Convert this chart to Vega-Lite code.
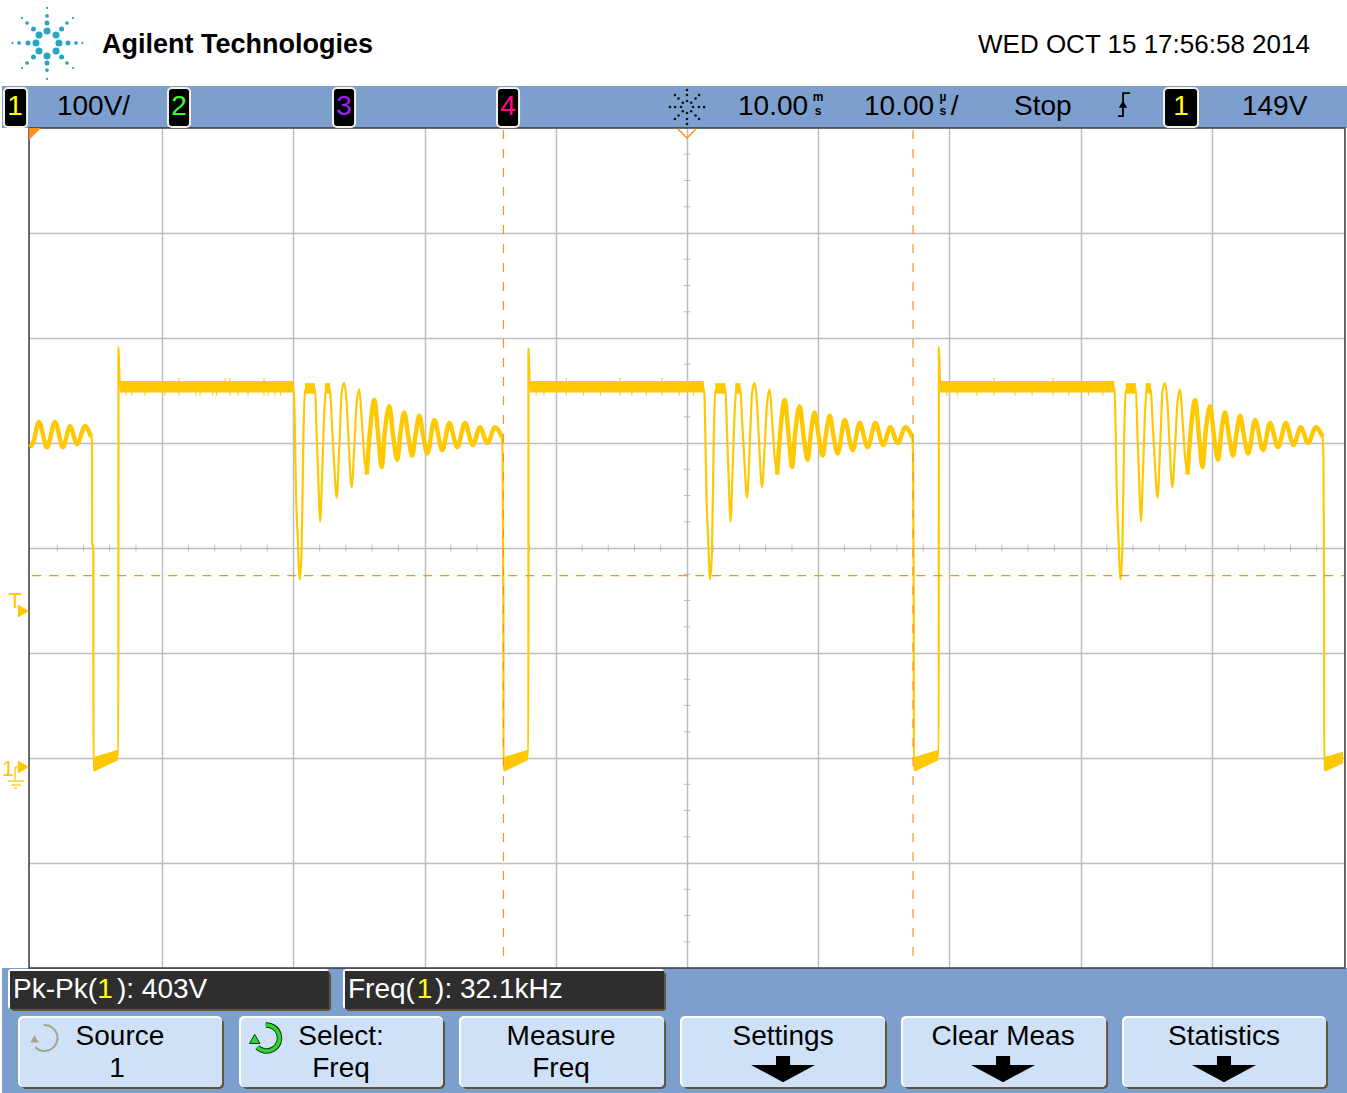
{"$schema":"https://vega.github.io/schema/vega-lite/v6.json","autosize":{"type":"fit","contains":"padding"},"width":1347,"height":1093,"padding":0,"background":"white","config":{"view":{"stroke":null}},
"datasets":{
"trace":[
{"c":0,"t":-45.43,"v":306},{"c":0,"t":-45.35,"v":303},{"c":0,"t":-45.33,"v":205},{"c":0,"t":-45.25,"v":200},{"c":0,"t":-45.24,"v":-11},{"c":0,"t":-45.16,"v":-10},{"c":0,"t":-43.37,"v":3},{"c":0,"t":-43.34,"v":3},{"c":0,"t":-43.33,"v":391},{"c":0,"t":-43.25,"v":360},{"c":0,"t":-43.15,"v":353},
{"c":0,"t":-29.99,"v":353},{"c":0,"t":-29.93,"v":338},{"c":0,"t":-29.88,"v":306},{"c":0,"t":-29.81,"v":258},{"c":0,"t":-29.67,"v":210},{"c":0,"t":-29.52,"v":170},{"c":0,"t":-29.37,"v":201},{"c":0,"t":-29.24,"v":306},{"c":0,"t":-29.12,"v":350},{"c":0,"t":-28.35,"v":352},{"c":0,"t":-28.22,"v":306},{"c":0,"t":-28.10,"v":265},{"c":0,"t":-27.97,"v":225},{"c":0,"t":-27.80,"v":274},{"c":0,"t":-27.64,"v":331},{"c":0,"t":-27.46,"v":355},{"c":0,"t":-27.21,"v":350},{"c":0,"t":-27.08,"v":322},{"c":0,"t":-26.91,"v":284},{"c":0,"t":-26.70,"v":248},{"c":0,"t":-26.50,"v":296},{"c":0,"t":-26.32,"v":348},{"c":0,"t":-26.14,"v":357},{"c":0,"t":-25.94,"v":338},{"c":0,"t":-25.81,"v":306},{"c":0,"t":-25.56,"v":258},{"c":0,"t":-25.36,"v":296},{"c":0,"t":-25.18,"v":338},{"c":0,"t":-24.98,"v":351},{"c":0,"t":-24.79,"v":322},{"c":0,"t":-24.60,"v":287},{"c":0,"t":-24.41,"v":270},
{"c":1,"t":-14.12,"v":306},{"c":1,"t":-14.05,"v":287},{"c":1,"t":-14.00,"v":150},{"c":1,"t":-13.99,"v":-11},{"c":1,"t":-13.87,"v":-10},{"c":1,"t":-12.12,"v":3},{"c":1,"t":-12.09,"v":3},{"c":1,"t":-12.08,"v":390},{"c":1,"t":-12.00,"v":360},{"c":1,"t":-11.90,"v":353},
{"c":1,"t":1.28,"v":353},{"c":1,"t":1.35,"v":338},{"c":1,"t":1.40,"v":306},{"c":1,"t":1.47,"v":258},{"c":1,"t":1.61,"v":210},{"c":1,"t":1.76,"v":170},{"c":1,"t":1.91,"v":201},{"c":1,"t":2.04,"v":306},{"c":1,"t":2.16,"v":350},{"c":1,"t":2.93,"v":352},{"c":1,"t":3.06,"v":306},{"c":1,"t":3.18,"v":265},{"c":1,"t":3.31,"v":225},{"c":1,"t":3.48,"v":274},{"c":1,"t":3.64,"v":331},{"c":1,"t":3.82,"v":355},{"c":1,"t":4.07,"v":350},{"c":1,"t":4.20,"v":322},{"c":1,"t":4.37,"v":284},{"c":1,"t":4.58,"v":248},{"c":1,"t":4.78,"v":296},{"c":1,"t":4.96,"v":348},{"c":1,"t":5.14,"v":357},{"c":1,"t":5.34,"v":338},{"c":1,"t":5.47,"v":306},{"c":1,"t":5.72,"v":258},{"c":1,"t":5.92,"v":296},{"c":1,"t":6.10,"v":338},{"c":1,"t":6.30,"v":351},{"c":1,"t":6.49,"v":322},{"c":1,"t":6.68,"v":287},{"c":1,"t":6.87,"v":270},
{"c":2,"t":17.16,"v":306},{"c":2,"t":17.23,"v":287},{"c":2,"t":17.28,"v":150},{"c":2,"t":17.29,"v":-11},{"c":2,"t":17.41,"v":-10},{"c":2,"t":19.16,"v":3},{"c":2,"t":19.19,"v":3},{"c":2,"t":19.20,"v":391},{"c":2,"t":19.28,"v":360},{"c":2,"t":19.38,"v":353},
{"c":2,"t":32.57,"v":353},{"c":2,"t":32.63,"v":338},{"c":2,"t":32.68,"v":306},{"c":2,"t":32.75,"v":258},{"c":2,"t":32.89,"v":210},{"c":2,"t":33.04,"v":170},{"c":2,"t":33.19,"v":201},{"c":2,"t":33.32,"v":306},{"c":2,"t":33.44,"v":350},{"c":2,"t":34.21,"v":352},{"c":2,"t":34.34,"v":306},{"c":2,"t":34.46,"v":265},{"c":2,"t":34.59,"v":225},{"c":2,"t":34.76,"v":274},{"c":2,"t":34.92,"v":331},{"c":2,"t":35.10,"v":355},{"c":2,"t":35.35,"v":350},{"c":2,"t":35.48,"v":322},{"c":2,"t":35.65,"v":284},{"c":2,"t":35.86,"v":248},{"c":2,"t":36.06,"v":296},{"c":2,"t":36.24,"v":348},{"c":2,"t":36.42,"v":357},{"c":2,"t":36.62,"v":338},{"c":2,"t":36.75,"v":306},{"c":2,"t":37.00,"v":258},{"c":2,"t":37.20,"v":296},{"c":2,"t":37.38,"v":338},{"c":2,"t":37.58,"v":351},{"c":2,"t":37.77,"v":322},{"c":2,"t":37.96,"v":287},{"c":2,"t":38.15,"v":270},
{"c":3,"t":48.44,"v":306},{"c":3,"t":48.51,"v":287},{"c":3,"t":48.56,"v":150},{"c":3,"t":48.57,"v":-11},{"c":3,"t":48.69,"v":-10},{"c":3,"t":50.0,"v":-3}],
"tail":[
{"c":0,"t":-50.08,"v":296},{"c":0,"t":-49.85,"v":300},{"c":0,"t":-49.39,"v":320},{"c":0,"t":-48.78,"v":296},{"c":0,"t":-48.17,"v":320},{"c":0,"t":-47.56,"v":296},{"c":0,"t":-47.03,"v":316},{"c":0,"t":-46.49,"v":299},{"c":0,"t":-45.88,"v":316},{"c":0,"t":-45.43,"v":306},
{"c":1,"t":-24.41,"v":270},{"c":1,"t":-24.16,"v":312},{"c":1,"t":-23.83,"v":341},{"c":1,"t":-23.53,"v":306},{"c":1,"t":-23.27,"v":277},{"c":1,"t":-23.02,"v":312},{"c":1,"t":-22.69,"v":335},{"c":1,"t":-22.39,"v":306},{"c":1,"t":-22.08,"v":284},{"c":1,"t":-21.82,"v":312},{"c":1,"t":-21.55,"v":329},{"c":1,"t":-21.24,"v":306},{"c":1,"t":-20.94,"v":288},{"c":1,"t":-20.68,"v":309},{"c":1,"t":-20.40,"v":326},{"c":1,"t":-20.10,"v":306},{"c":1,"t":-19.79,"v":290},{"c":1,"t":-19.26,"v":322},{"c":1,"t":-18.65,"v":293},{"c":1,"t":-18.12,"v":319},{"c":1,"t":-17.51,"v":296},{"c":1,"t":-16.92,"v":319},{"c":1,"t":-16.33,"v":298},{"c":1,"t":-15.78,"v":315},{"c":1,"t":-15.22,"v":300},{"c":1,"t":-14.63,"v":315},{"c":1,"t":-14.12,"v":306},
{"c":2,"t":6.87,"v":270},{"c":2,"t":7.12,"v":312},{"c":2,"t":7.45,"v":341},{"c":2,"t":7.75,"v":306},{"c":2,"t":8.01,"v":277},{"c":2,"t":8.26,"v":312},{"c":2,"t":8.59,"v":335},{"c":2,"t":8.89,"v":306},{"c":2,"t":9.20,"v":284},{"c":2,"t":9.46,"v":312},{"c":2,"t":9.73,"v":329},{"c":2,"t":10.04,"v":306},{"c":2,"t":10.34,"v":288},{"c":2,"t":10.60,"v":309},{"c":2,"t":10.88,"v":326},{"c":2,"t":11.18,"v":306},{"c":2,"t":11.49,"v":290},{"c":2,"t":12.02,"v":322},{"c":2,"t":12.63,"v":293},{"c":2,"t":13.16,"v":319},{"c":2,"t":13.77,"v":296},{"c":2,"t":14.36,"v":319},{"c":2,"t":14.95,"v":298},{"c":2,"t":15.50,"v":315},{"c":2,"t":16.06,"v":300},{"c":2,"t":16.65,"v":315},{"c":2,"t":17.16,"v":306},
{"c":3,"t":38.15,"v":270},{"c":3,"t":38.40,"v":312},{"c":3,"t":38.73,"v":341},{"c":3,"t":39.03,"v":306},{"c":3,"t":39.29,"v":277},{"c":3,"t":39.54,"v":312},{"c":3,"t":39.87,"v":335},{"c":3,"t":40.17,"v":306},{"c":3,"t":40.48,"v":284},{"c":3,"t":40.74,"v":312},{"c":3,"t":41.01,"v":329},{"c":3,"t":41.32,"v":306},{"c":3,"t":41.62,"v":288},{"c":3,"t":41.88,"v":309},{"c":3,"t":42.16,"v":326},{"c":3,"t":42.46,"v":306},{"c":3,"t":42.77,"v":290},{"c":3,"t":43.30,"v":322},{"c":3,"t":43.91,"v":293},{"c":3,"t":44.44,"v":319},{"c":3,"t":45.05,"v":296},{"c":3,"t":45.64,"v":319},{"c":3,"t":46.23,"v":298},{"c":3,"t":46.78,"v":315},{"c":3,"t":47.34,"v":300},{"c":3,"t":47.93,"v":315},{"c":3,"t":48.44,"v":306}],
"envelope":[
{"c":"L0","t":-45.2,"v":1,"v2":-13},{"c":"L0","t":-43.37,"v":8,"v2":-2},
{"c":"L1","t":-13.95,"v":1,"v2":-13},{"c":"L1","t":-12.12,"v":8,"v2":-2},
{"c":"L2","t":17.33,"v":1,"v2":-13},{"c":"L2","t":19.16,"v":8,"v2":-2},
{"c":"L3","t":48.62,"v":1,"v2":-13},{"c":"L3","t":50.0,"v":6,"v2":-5},
{"c":"P0","t":-43.25,"v":359,"v2":348},{"c":"P0","t":-29.99,"v":359,"v2":348},
{"c":"P1","t":-12.0,"v":359,"v2":348},{"c":"P1","t":1.28,"v":359,"v2":348},
{"c":"P2","t":19.29,"v":359,"v2":348},{"c":"P2","t":32.57,"v":359,"v2":348},
{"c":"F0","t":-29.12,"v":357,"v2":347},{"c":"F0","t":-28.35,"v":357,"v2":347},
{"c":"G0","t":-27.6,"v":357,"v2":347},{"c":"G0","t":-27.2,"v":357,"v2":347},
{"c":"F1","t":2.16,"v":357,"v2":347},{"c":"F1","t":2.93,"v":357,"v2":347},
{"c":"G1","t":3.68,"v":357,"v2":347},{"c":"G1","t":4.08,"v":357,"v2":347},
{"c":"F2","t":33.44,"v":357,"v2":347},{"c":"F2","t":34.21,"v":357,"v2":347},
{"c":"G2","t":34.96,"v":357,"v2":347},{"c":"G2","t":35.36,"v":357,"v2":347}],
"spikes":[
{"t":-42.76,"v":350,"v2":345},{"t":-42.32,"v":350,"v2":345},{"t":-41.31,"v":350,"v2":345},{"t":-39.79,"v":350,"v2":345},{"t":-38.72,"v":362,"v2":345},{"t":-37.42,"v":350,"v2":345},{"t":-37.12,"v":350,"v2":345},{"t":-36.15,"v":350,"v2":345},{"t":-35.85,"v":350,"v2":345},{"t":-35.21,"v":362,"v2":350},{"t":-34.83,"v":362,"v2":345},{"t":-34.22,"v":350,"v2":345},{"t":-33.46,"v":350,"v2":345},{"t":-32.24,"v":362,"v2":345},{"t":-31.94,"v":350,"v2":345},{"t":-31.4,"v":350,"v2":345},{"t":-30.97,"v":350,"v2":345},
{"t":-11.5,"v":350,"v2":345},{"t":-10.9,"v":350,"v2":345},{"t":-9.2,"v":362,"v2":345},{"t":-7.9,"v":350,"v2":345},{"t":-6.6,"v":350,"v2":345},{"t":-5.1,"v":362,"v2":345},{"t":-4.2,"v":350,"v2":345},{"t":-3.1,"v":350,"v2":345},{"t":-1.9,"v":362,"v2":345},{"t":-0.6,"v":350,"v2":345},{"t":0.5,"v":350,"v2":345},
{"t":19.8,"v":350,"v2":345},{"t":20.6,"v":350,"v2":345},{"t":22.1,"v":350,"v2":345},{"t":23.4,"v":362,"v2":345},{"t":25.0,"v":350,"v2":345},{"t":26.3,"v":350,"v2":345},{"t":27.9,"v":362,"v2":345},{"t":29.1,"v":350,"v2":345},{"t":30.6,"v":350,"v2":345},{"t":31.7,"v":350,"v2":345}],
"xticks":[{"t":-48,"v":200},{"t":-46,"v":200},{"t":-44,"v":200},{"t":-42,"v":200},{"t":-38,"v":200},{"t":-36,"v":200},{"t":-34,"v":200},{"t":-32,"v":200},{"t":-28,"v":200},{"t":-26,"v":200},{"t":-24,"v":200},{"t":-22,"v":200},{"t":-18,"v":200},{"t":-16,"v":200},{"t":-14,"v":200},{"t":-12,"v":200},{"t":-8,"v":200},{"t":-6,"v":200},{"t":-4,"v":200},{"t":-2,"v":200},{"t":2,"v":200},{"t":4,"v":200},{"t":6,"v":200},{"t":8,"v":200},{"t":12,"v":200},{"t":14,"v":200},{"t":16,"v":200},{"t":18,"v":200},{"t":22,"v":200},{"t":24,"v":200},{"t":26,"v":200},{"t":28,"v":200},{"t":32,"v":200},{"t":34,"v":200},{"t":36,"v":200},{"t":38,"v":200},{"t":42,"v":200},{"t":44,"v":200},{"t":46,"v":200},{"t":48,"v":200}],
"yticks":[{"t":0,"v":-175},{"t":0,"v":-150},{"t":0,"v":-125},{"t":0,"v":-75},{"t":0,"v":-50},{"t":0,"v":-25},{"t":0,"v":25},{"t":0,"v":50},{"t":0,"v":75},{"t":0,"v":125},{"t":0,"v":150},{"t":0,"v":175},{"t":0,"v":225},{"t":0,"v":250},{"t":0,"v":275},{"t":0,"v":325},{"t":0,"v":350},{"t":0,"v":375},{"t":0,"v":425},{"t":0,"v":450},{"t":0,"v":475},{"t":0,"v":525},{"t":0,"v":550},{"t":0,"v":575}],
"buttons":[{"t":-50.84,"t2":-35.44,"v":-247.6,"v2":-313.3},{"t":-33.99,"t2":-18.60,"v":-247.6,"v2":-313.3},{"t":-17.23,"t2":-1.75,"v":-247.6,"v2":-313.3},{"t":-0.38,"t2":15.09,"v":-247.6,"v2":-313.3},{"t":16.46,"t2":31.94,"v":-247.6,"v2":-313.3},{"t":33.31,"t2":48.70,"v":-247.6,"v2":-313.3}],
"readouts":[{"t":-51.60,"t2":-27.29,"v":-202.9,"v2":-239.0},{"t":-26.07,"t2":-1.75,"v":-202.9,"v2":-239.0}],
"badges":[{"t":-52.06,"t2":-50.30,"v":638,"v2":601},{"t":-39.56,"t2":-37.88,"v":638,"v2":601},{"t":-26.98,"t2":-25.30,"v":638,"v2":601},{"t":-14.48,"t2":-12.80,"v":638,"v2":601},{"t":36.36,"t2":38.95,"v":638,"v2":601}]
},
"encoding":{
"x":{"field":"t","type":"quantitative","scale":{"domain":[-52.363,50.305],"nice":false,"zero":false},"axis":{"title":null,"values":[-40,-30,-20,-10,0,10,20,30,40],"grid":true,"gridColor":"#BDBDBD","gridWidth":1.5,"domain":false,"ticks":false,"labels":false}},
"y":{"field":"v","type":"quantitative","scale":{"domain":[-319,721.9],"nice":false,"zero":false},"axis":{"title":null,"values":[-100,0,100,200,300,400,500],"grid":true,"gridColor":"#BDBDBD","gridWidth":1.5,"domain":false,"ticks":false,"labels":false}}
},
"layer":[
{"data":{"values":[{"t":-52.363,"t2":-50.15,"v":721.9,"v2":-319},{"t":50.15,"t2":50.305,"v":721.9,"v2":-319},{"t":-52.363,"t2":50.305,"v":721.9,"v2":640}]},"mark":{"type":"rect","fill":"white"},"encoding":{"x2":{"field":"t2"},"y2":{"field":"v2"}}},
{"data":{"values":[{"t":-52.21,"t2":50.305,"v":640,"v2":600},{"t":-52.21,"t2":50.305,"v":-200,"v2":-319}]},"mark":{"type":"rect","fill":"#7D9FCE"},"encoding":{"x2":{"field":"t2"},"y2":{"field":"v2"}}},
{"data":{"values":[{"t":-50.15,"t2":50.15,"v":600,"v2":-200}]},"mark":{"type":"rect","fill":null,"fillOpacity":0,"stroke":"#3A3A3A","strokeWidth":1.5},"encoding":{"x2":{"field":"t2"},"y2":{"field":"v2"}}},
{"data":{"name":"xticks"},"mark":{"type":"tick","orient":"vertical","size":7,"thickness":1,"color":"#A8A8A8"}},
{"data":{"name":"yticks"},"mark":{"type":"tick","orient":"horizontal","size":7,"thickness":1,"color":"#A8A8A8"}},
{"data":{"name":"envelope"},"mark":{"type":"area","color":"#FFC800","opacity":1},"encoding":{"y2":{"field":"v2"},"detail":{"field":"c"}}},
{"data":{"name":"spikes"},"mark":{"type":"rule","color":"#FFC800","strokeWidth":1},"encoding":{"y2":{"field":"v2"}}},
{"data":{"name":"trace"},"mark":{"type":"line","color":"#FFC800","strokeWidth":2.2,"interpolate":"monotone","strokeJoin":"round"},"encoding":{"detail":{"field":"c"}}},
{"data":{"name":"tail"},"mark":{"type":"line","color":"#FFC800","strokeWidth":4.4,"interpolate":"monotone","strokeJoin":"round"},"encoding":{"detail":{"field":"c"}}},
{"data":{"values":[{"t":-13.99,"v":598,"v2":-195},{"t":17.23,"v":598,"v2":-195}]},"mark":{"type":"rule","color":"#FF8F1F","strokeWidth":1.2,"strokeDash":[9,10]},"encoding":{"y2":{"field":"v2"}}},
{"data":{"values":[{"t":-49.9,"t2":50.08,"v":173.8}]},"mark":{"type":"rule","color":"#FF8F1F","strokeWidth":1.2,"strokeDash":[9,8]},"encoding":{"x2":{"field":"t2"}}},
{"data":{"values":[{"t":-0.69,"v":599},{"t":0,"v":590.5},{"t":0.69,"v":599}]},"mark":{"type":"line","color":"#FF8F1F","strokeWidth":1.5}},
{"data":{"values":[{"t":-49.69,"v":594.3}]},"mark":{"type":"point","shape":"M-1,-1L1,-1L-1,1Z","size":144,"filled":true,"opacity":1,"color":"#FF8F1F"}},
{"data":{"values":[{"t":-50.57,"v":140},{"t":-50.57,"v":-8.6}]},"mark":{"type":"point","shape":"triangle-right","size":170,"filled":true,"opacity":1,"color":"#FFC800"}},
{"data":{"values":[{"c":"a","t":-51.22,"v":-21.9},{"c":"a","t":-51.21,"v":-8.6},{"c":"a","t":-50.84,"v":-8.6},{"c":"b","t":-51.75,"v":-21.9},{"c":"b","t":-50.53,"v":-21.9},{"c":"d","t":-51.52,"v":-25.7},{"c":"d","t":-50.76,"v":-25.7},{"c":"e","t":-51.30,"v":-28.6},{"c":"e","t":-51.07,"v":-28.6}]},"mark":{"type":"line","color":"#FFC800","strokeWidth":1.3},"encoding":{"detail":{"field":"c"}}},
{"data":{"values":[{"t":-51.22,"v":142.9,"s":"T"},{"t":-51.75,"v":-17,"s":"1"}]},"mark":{"type":"text","align":"center","baseline":"alphabetic","font":"Liberation Sans","fontSize":22,"color":"#FFC800"},"encoding":{"text":{"field":"s"}}},
{"data":{"name":"readouts"},"mark":{"type":"rect","fill":"#5F5536","cornerRadius":3,"xOffset":1,"x2Offset":2,"yOffset":1,"y2Offset":2},"encoding":{"x2":{"field":"t2"},"y2":{"field":"v2"}}},
{"data":{"name":"readouts"},"mark":{"type":"rect","fill":"white","cornerRadius":3,"xOffset":-2,"yOffset":-2},"encoding":{"x2":{"field":"t2"},"y2":{"field":"v2"}}},
{"data":{"name":"readouts"},"mark":{"type":"rect","fill":"#2E2E2E"},"encoding":{"x2":{"field":"t2"},"y2":{"field":"v2"}}},
{"data":{"name":"buttons"},"mark":{"type":"rect","fill":"#5F5536","cornerRadius":5,"xOffset":1,"x2Offset":2,"yOffset":1,"y2Offset":2},"encoding":{"x2":{"field":"t2"},"y2":{"field":"v2"}}},
{"data":{"name":"buttons"},"mark":{"type":"rect","fill":"white","cornerRadius":5,"xOffset":-2,"yOffset":-2},"encoding":{"x2":{"field":"t2"},"y2":{"field":"v2"}}},
{"data":{"name":"buttons"},"mark":{"type":"rect","fill":"#CFE1F7","cornerRadius":4},"encoding":{"x2":{"field":"t2"},"y2":{"field":"v2"}}},
{"data":{"name":"badges"},"mark":{"type":"rect","fill":"black","stroke":"#F4F2E4","strokeWidth":2,"cornerRadius":4},"encoding":{"x2":{"field":"t2"},"y2":{"field":"v2"}}},
{"data":{"values":[{"t":-48.78,"v":692.4},{"t":-49.39,"v":688.6},{"t":-48.09,"v":688.6},{"t":-49.62,"v":681},{"t":-47.87,"v":681},{"t":-49.39,"v":673.3},{"t":-48.09,"v":673.3},{"t":-48.78,"v":668.6}]},"mark":{"type":"point","shape":"circle","filled":true,"opacity":1,"size":49,"color":"#2BA3C4"}},
{"data":{"values":[{"t":-50.23,"v":681},{"t":-47.18,"v":681},{"t":-48.78,"v":700},{"t":-48.78,"v":661.9},{"t":-49.81,"v":694.3},{"t":-47.67,"v":694.3},{"t":-49.81,"v":667.6},{"t":-47.67,"v":667.6}]},"mark":{"type":"point","shape":"circle","filled":true,"opacity":1,"size":25,"color":"#2BA3C4"}},
{"data":{"values":[{"t":-50.91,"v":681},{"t":-46.57,"v":681},{"t":-48.78,"v":706.7},{"t":-48.78,"v":655.2},{"t":-50.30,"v":700},{"t":-47.26,"v":700},{"t":-50.30,"v":661.9},{"t":-47.26,"v":661.9}]},"mark":{"type":"point","shape":"circle","filled":true,"opacity":1,"size":14,"color":"#2BA3C4"}},
{"data":{"values":[{"t":-51.41,"v":681},{"t":-46.08,"v":681},{"t":-48.78,"v":714.3},{"t":-48.78,"v":646.7},{"t":-50.69,"v":704.8},{"t":-46.80,"v":704.8},{"t":-50.69,"v":657.1},{"t":-46.80,"v":657.1}]},"mark":{"type":"point","shape":"circle","filled":true,"opacity":1,"size":5,"color":"#2BA3C4"}},
{"data":{"values":[{"t":0.46,"v":620},{"t":-0.46,"v":620},{"t":0,"v":625.7},{"t":0,"v":614.3},{"t":0.32,"v":624},{"t":-0.32,"v":624},{"t":0.32,"v":616},{"t":-0.32,"v":616},{"t":0.91,"v":620},{"t":-0.91,"v":620},{"t":0,"v":631.4},{"t":0,"v":608.6},{"t":0.65,"v":628.1},{"t":-0.65,"v":628.1},{"t":0.65,"v":611.9},{"t":-0.65,"v":611.9},{"t":1.3,"v":620},{"t":-1.3,"v":620},{"t":0,"v":636.2},{"t":0,"v":603.8},{"t":0.92,"v":631.4},{"t":-0.92,"v":631.4},{"t":0.92,"v":608.6},{"t":-0.92,"v":608.6}]},"mark":{"type":"point","shape":"circle","filled":true,"opacity":1,"size":7,"color":"#111111"}},
{"data":{"values":[{"t":32.85,"v":611.4},{"t":33.23,"v":611.4},{"t":33.24,"v":633.3},{"t":33.76,"v":633.3}]},"mark":{"type":"line","color":"black","strokeWidth":1.8}},
{"data":{"values":[{"t":33.23,"v":622.8}]},"mark":{"type":"point","shape":"triangle-up","size":70,"filled":true,"opacity":1,"color":"black"}},
{"data":{"values":[{"t":7.32,"v":-296.2},{"t":24.09,"v":-296.2},{"t":40.93,"v":-296.2}]},"mark":{"type":"point","shape":"M-0.22,-0.41L0.22,-0.41L0.22,-0.13L1,-0.13L0,0.41L-1,-0.13L-0.22,-0.13Z","size":4096,"filled":true,"opacity":1,"color":"black","strokeWidth":0}},
{"data":{"values":[{"t":-48.93,"v":-266.7}]},"mark":{"type":"point","shape":"M-0.1,-1A1,1 0 1 1 -0.75,0.7","size":676,"filled":false,"opacity":1,"color":"#A5A58D","strokeWidth":2}},
{"data":{"values":[{"t":-49.73,"v":-267.5}]},"mark":{"type":"point","shape":"triangle-up","size":70,"filled":true,"opacity":1,"color":"#A5A58D"}},
{"data":{"values":[{"t":-32.01,"v":-266.7}]},"mark":{"type":"point","shape":"M-0.1,-1A1,1 0 1 1 -0.75,0.7","size":676,"filled":false,"opacity":1,"color":"#0F3D0F","strokeWidth":5.5}},
{"data":{"values":[{"t":-32.01,"v":-266.7}]},"mark":{"type":"point","shape":"M-0.1,-1A1,1 0 1 1 -0.75,0.7","size":676,"filled":false,"opacity":1,"color":"#2FD52F","strokeWidth":3.5}},
{"data":{"values":[{"t":-32.95,"v":-267.5}]},"mark":{"type":"point","shape":"triangle-up","size":110,"filled":true,"opacity":1,"color":"#2FD52F","stroke":"#0F3D0F","strokeWidth":1}},
{"data":{"values":[{"t":-44.59,"v":671.4,"s":"Agilent Technologies"}]},"mark":{"type":"text","align":"left","baseline":"alphabetic","font":"Liberation Sans","fontWeight":"bold","fontSize":27,"color":"black"},"encoding":{"text":{"field":"s"}}},
{"data":{"values":[{"t":22.18,"v":671.4,"s":"WED OCT 15 17:56:58 2014"}]},"mark":{"type":"text","align":"left","baseline":"alphabetic","font":"Liberation Sans","fontSize":26,"color":"black"},"encoding":{"text":{"field":"s"}}},
{"data":{"values":[{"t":-48.02,"v":612.4,"s":"100V/"},{"t":3.89,"v":612.4,"s":"10.00"},{"t":13.49,"v":612.4,"s":"10.00"},{"t":20.1,"v":612.4,"s":"/"},{"t":24.92,"v":612.4,"s":"Stop"},{"t":42.30,"v":612.4,"s":"149V"}]},"mark":{"type":"text","align":"left","baseline":"alphabetic","font":"Liberation Sans","fontSize":28,"color":"black"},"encoding":{"text":{"field":"s"}}},
{"data":{"values":[{"t":10.0,"v":625.5,"s":"m"},{"t":10.0,"v":612.4,"s":"s"},{"t":19.5,"v":625.5,"s":"µ"},{"t":19.5,"v":612.4,"s":"s"}]},"mark":{"type":"text","align":"center","baseline":"alphabetic","font":"Liberation Sans","fontWeight":"bold","fontSize":12,"color":"black"},"encoding":{"text":{"field":"s"}}},
{"data":{"values":[{"t":-43.22,"v":-273.3,"s":"Source"},{"t":-43.45,"v":-303.8,"s":"1"},{"t":-26.37,"v":-273.3,"s":"Select:"},{"t":-26.37,"v":-303.8,"s":"Freq"},{"t":-9.60,"v":-273.3,"s":"Measure"},{"t":-9.60,"v":-303.8,"s":"Freq"},{"t":7.32,"v":-273.3,"s":"Settings"},{"t":24.09,"v":-273.3,"s":"Clear Meas"},{"t":40.93,"v":-273.3,"s":"Statistics"}]},"mark":{"type":"text","align":"center","baseline":"alphabetic","font":"Liberation Sans","fontSize":28,"color":"black"},"encoding":{"text":{"field":"s"}}},
{"data":{"values":[{"t":-51.37,"v":-228.6,"s":"Pk-Pk("},{"t":-43.45,"v":-228.6,"s":"): 403V"},{"t":-25.84,"v":-228.6,"s":"Freq("},{"t":-19.2,"v":-228.6,"s":"): 32.1kHz"}]},"mark":{"type":"text","align":"left","baseline":"alphabetic","font":"Liberation Sans","fontSize":28,"color":"white"},"encoding":{"text":{"field":"s"}}},
{"data":{"values":[{"t":-44.36,"v":-228.6,"s":"1"},{"t":-20.0,"v":-228.6,"s":"1"},{"t":-51.22,"v":612.4,"s":"1"},{"t":37.65,"v":612.4,"s":"1"}]},"mark":{"type":"text","align":"center","baseline":"alphabetic","font":"Liberation Sans","fontSize":28,"color":"#FFFF1A"},"encoding":{"text":{"field":"s"}}},
{"data":{"values":[{"t":-38.72,"v":612.4,"s":"2"}]},"mark":{"type":"text","align":"center","baseline":"alphabetic","font":"Liberation Sans","fontSize":28,"color":"#33FF33"},"encoding":{"text":{"field":"s"}}},
{"data":{"values":[{"t":-26.14,"v":612.4,"s":"3"}]},"mark":{"type":"text","align":"center","baseline":"alphabetic","font":"Liberation Sans","fontSize":28,"color":"#A020F0"},"encoding":{"text":{"field":"s"}}},
{"data":{"values":[{"t":-13.64,"v":612.4,"s":"4"}]},"mark":{"type":"text","align":"center","baseline":"alphabetic","font":"Liberation Sans","fontSize":28,"color":"#FF0A80"},"encoding":{"text":{"field":"s"}}}
]}
